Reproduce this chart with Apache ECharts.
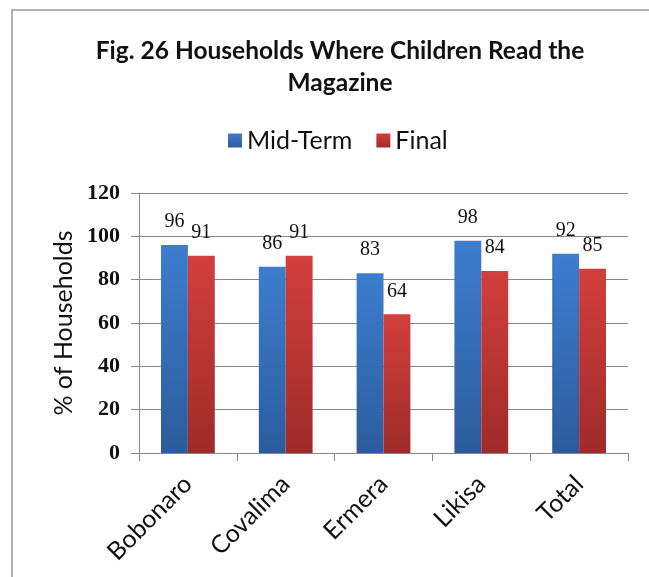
<!DOCTYPE html>
<html>
<head>
<meta charset="utf-8">
<script src="https://cdn.jsdelivr.net/npm/echarts@6/dist/echarts.min.js"></script>
<style>
html,body{margin:0;padding:0;background:#fff;}
#chart{width:649px;height:577px;}
</style>
</head>
<body>
<div id="chart"></div>
<script>
const categories = ['Bobonaro', 'Covalima', 'Ermera', 'Likisa', 'Total'];
const midTerm = [96, 86, 83, 98, 92];
const finalVals = [91, 91, 64, 84, 85];
const seriesNames = ['Mid-Term', 'Final'];
const yTicks = { min: 0, max: 120, interval: 20 };

const chart = echarts.init(document.getElementById('chart'), null, { renderer: 'canvas' });

function grad(top, bottom) {
  return new echarts.graphic.LinearGradient(0, 0, 0, 1, [
    { offset: 0, color: top },
    { offset: 1, color: bottom }
  ]);
}

const labelStyle = {
  show: true,
  position: 'top',
  distance: 13,
  fontFamily: 'Liberation Serif',
  fontSize: 20,
  color: '#111'
};

chart.setOption({
  animation: false,
  backgroundColor: '#fff',
  graphic: [{
    type: 'rect',
    shape: { x: 12, y: 10, width: 700, height: 620 },
    style: { fill: 'none', stroke: '#999', lineWidth: 1.5 },
    silent: true
  }],
  title: {
    text: 'Fig. 26 Households Where Children Read the\nMagazine',
    left: 335,
    top: 30,
    textAlign: 'center',
    textStyle: {
      fontFamily: 'Lato',
      fontWeight: 'bold',
      fontSize: 24.5,
      lineHeight: 32,
      color: '#111'
    }
  },
  legend: {
    data: seriesNames,
    left: 223,
    top: 123,
    itemWidth: 14,
    itemHeight: 14,
    itemGap: 24,
    icon: 'rect',
    textStyle: { fontFamily: 'Lato', fontSize: 25, color: '#111' }
  },
  grid: { left: 139, right: 21, top: 193, bottom: 124 },
  xAxis: {
    type: 'category',
    data: categories,
    axisLine: { lineStyle: { color: '#888' } },
    axisTick: { show: true, length: 8, lineStyle: { color: '#888' } },
    axisLabel: {
      rotate: 45,
      margin: 27,
      fontFamily: 'Lato',
      fontSize: 25,
      color: '#111'
    }
  },
  yAxis: {
    type: 'value',
    min: yTicks.min,
    max: yTicks.max,
    interval: yTicks.interval,
    name: '% of Households',
    nameLocation: 'middle',
    nameRotate: 90,
    nameGap: 63,
    nameTextStyle: { fontFamily: 'Lato', fontSize: 25, color: '#111' },
    axisLine: { show: true, lineStyle: { color: '#888' } },
    axisTick: { show: true, length: 8, lineStyle: { color: '#888' } },
    splitLine: { lineStyle: { color: '#888' } },
    axisLabel: {
      margin: 19,
      fontFamily: 'Liberation Serif',
      fontWeight: 'bold',
      fontSize: 22,
      color: '#111'
    }
  },
  series: [
    {
      name: seriesNames[0],
      type: 'bar',
      data: midTerm,
      barGap: '0%',
      barCategoryGap: '45%',
      itemStyle: { color: grad('#3d7dcf', '#2c5c9c') },
      label: labelStyle
    },
    {
      name: seriesNames[1],
      type: 'bar',
      data: finalVals,
      itemStyle: { color: grad('#d23f3c', '#9e2b29') },
      label: labelStyle
    }
  ]
});
</script>
</body>
</html>
